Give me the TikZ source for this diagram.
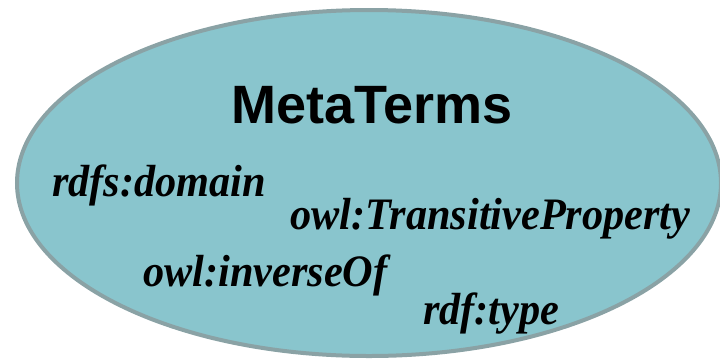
\documentclass[tikz,border=0pt]{standalone}
\usepackage{fontspec}
\setmainfont{Liberation Serif}
\setsansfont{Liberation Sans}
\usetikzlibrary{shapes.geometric}
\definecolor{ellfill}{HTML}{89C5CD}
\definecolor{elledge}{HTML}{8AA2A5}
\newcommand{\narrowtxt}[1]{\scalebox{0.94}[1]{#1}}
\tikzset{
  term/.style={font=\fontsize{45}{47}\selectfont\bfseries\itshape, anchor=base west, inner sep=0pt},
  title/.style={font=\fontsize{54}{56}\selectfont\sffamily\bfseries, anchor=base, inner sep=0pt}
}
\begin{document}
\begin{tikzpicture}[x=1pt,y=-1pt]
\useasboundingbox (0,0) rectangle (720,360);
\clip (0,0) rectangle (720,360);
\node[ellipse, draw=elledge, fill=ellfill, line width=4pt, minimum width=704pt, minimum height=346pt, inner sep=0pt] (ell) at (369,183) {};
\node[title] (mt) at (372,123) {MetaTerms};
\node[term] (dom) at (52,196) {\narrowtxt{rdfs:domain}};
\node[term] (tp) at (290,229) {\narrowtxt{owl:TransitiveProperty}};
\node[term] (inv) at (143,286) {\narrowtxt{owl:inverseOf}};
\node[term] (typ) at (423,324) {\narrowtxt{rdf:type}};
\end{tikzpicture}
\end{document}
